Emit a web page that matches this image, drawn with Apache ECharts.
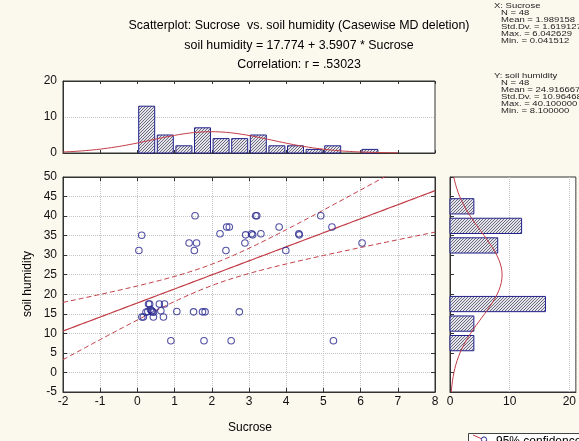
<!DOCTYPE html>
<html>
<head>
<meta charset="utf-8">
<script src="https://cdn.jsdelivr.net/npm/echarts@6/dist/echarts.min.js"></script>
<style>
  html, body { margin: 0; padding: 0; background: #fbf8ee; }
  #chart { width: 579px; height: 441px; }
</style>
</head>
<body>
<div id="chart"></div>
<script>
// Observations (Sucrose, soil humidity), one entry per case
const sucrose = [
  0.04, 0.115, 0.12, 0.16, 0.23, 0.30, 0.33, 0.38, 0.43, 0.43, 0.35, 0.40, 0.28,
  0.59, 0.73, 0.63, 0.70, 0.90,
  1.06, 1.39,
  1.55, 1.59, 1.53, 1.51, 1.75, 1.82, 1.79,
  2.22, 2.40, 2.47, 2.38,
  2.52, 2.74, 2.91, 2.89,
  3.18, 3.21, 3.07, 3.10, 3.32,
  3.81, 3.99,
  4.34, 4.35,
  4.93,
  5.23, 5.27,
  6.04
];
const soilHumidity = [
  31.2, 35.1, 14.2, 14.2, 15.4, 17.5, 17.5, 15.8, 15.4, 14.2, 16.1, 15.6, 15.6,
  17.5, 17.5, 15.8, 14.2, 8.1,
  15.6, 33.1,
  40.1, 33.1, 31.2, 15.5, 15.5, 15.5, 8.1,
  35.5, 37.2, 37.2, 31.2,
  8.1, 15.5, 35.2, 33.1,
  40.1, 40.1, 35.5, 35.2, 35.5,
  37.2, 31.2,
  35.5, 35.2,
  40.1,
  37.2, 8.1,
  33.1
];

// Histogram of Sucrose (bin width 0.5)
const sucroseBinCenters = [0.25, 0.75, 1.25, 1.75, 2.25, 2.75, 3.25, 3.75, 4.25, 4.75, 5.25, 5.75, 6.25];
const sucroseBinCounts  = [13, 5, 2, 7, 4, 4, 5, 2, 2, 1, 2, 0, 1];
const sucroseBinWidth = 0.5;

// Histogram of soil humidity (bin width 5)
const humidityBinCenters = [7.5, 12.5, 17.5, 22.5, 27.5, 32.5, 37.5, 42.5];
const humidityBinCounts  = [4, 4, 16, 0, 0, 8, 12, 4];
const humidityBinWidth = 5;

// Summary statistics printed on the chart
const nCases = 48;
const xMean = 1.989158, xSd = 1.619127;
const yMean = 24.916667, ySd = 10.96468;
const intercept = 17.774, slope = 3.5907, corrR = 0.53023;
const tCrit = 2.0129; // t(0.975, n-2 = 46)

const xStatsLines = ['N = 48', 'Mean = 1.989158', 'Std.Dv. = 1.619127', 'Max. = 6.042629', 'Min. = 0.041512'];
const yStatsLines = ['N = 48', 'Mean = 24.916667', 'Std.Dv. = 10.96468', 'Max. = 40.100000', 'Min. = 8.100000'];

// Axis ranges
const xRange = [-2, 8];
const yRange = [-5, 50];
const countRange = [0, 20];

const RED = '#c23d47';
const BLUE = '#25258f';
const GRID_LINE = { show: true, lineStyle: { type: 'dotted', color: '#c4c4c4', width: 1 } };
const FONT = 'Liberation Sans, Arial, sans-serif';

// Diagonal hatch used to fill histogram bars
function makeHatch() {
  const c = document.createElement('canvas');
  c.width = 3; c.height = 3;
  const g = c.getContext('2d');
  g.fillStyle = '#e4e4ea';
  g.fillRect(0, 0, 3, 3);
  g.strokeStyle = '#5c5c74';
  g.lineWidth = 0.9;
  g.beginPath();
  g.moveTo(-1, 4); g.lineTo(4, -1);
  g.stroke();
  return c;
}
const hatch = { image: makeHatch(), repeat: 'repeat' };

// Fitted line and its 95% confidence band
const resSe = ySd * Math.sqrt((1 - corrR * corrR) * (nCases - 1) / (nCases - 2));
const sxx = (nCases - 1) * xSd * xSd;
const fitLine = [], bandUpper = [], bandLower = [];
for (let i = 0; i <= 100; i++) {
  const x = xRange[0] + i * (xRange[1] - xRange[0]) / 100;
  const yh = intercept + slope * x;
  const half = tCrit * resSe * Math.sqrt(1 / nCases + (x - xMean) * (x - xMean) / sxx);
  fitLine.push([x, yh]);
  bandUpper.push([x, yh + half]);
  bandLower.push([x, yh - half]);
}

// Normal curves scaled to histogram counts
function normalPdf(v, m, s) {
  return Math.exp(-0.5 * ((v - m) / s) ** 2) / (s * Math.sqrt(2 * Math.PI));
}
const sucroseCurve = [];
for (let i = 0; i <= 90; i++) {
  const x = -2 + i * 0.1;
  sucroseCurve.push([x, nCases * sucroseBinWidth * normalPdf(x, xMean, xSd)]);
}
const humidityCurve = [];
for (let i = 0; i <= 110; i++) {
  const y = yRange[0] + i * 0.5;
  humidityCurve.push([nCases * humidityBinWidth * normalPdf(y, yMean, ySd), y]);
}

function barRect(api, x0, y0, x1, y1) {
  const p0 = api.coord([x0, y0]);
  const p1 = api.coord([x1, y1]);
  return {
    type: 'rect',
    shape: {
      x: Math.min(p0[0], p1[0]), y: Math.min(p0[1], p1[1]),
      width: Math.abs(p1[0] - p0[0]), height: Math.abs(p1[1] - p0[1])
    },
    style: { fill: hatch, stroke: '#22228c', lineWidth: 1 }
  };
}

// Compact, wide lettering for the summary boxes (y = top of first line)
const STATS_LINE = 7;
function statsText(x, y, text) {
  return { type: 'text', x: x, y: y, scaleX: 1.32, scaleY: 1, silent: true,
    style: { text: text, font: '7.2px ' + FONT, fill: '#222', lineHeight: STATS_LINE, textVerticalAlign: 'top' } };
}

const labelStyle = { color: '#111', fontSize: 12, fontFamily: FONT };
function tickInside(len) { return { show: true, inside: true, length: len || 4, lineStyle: { color: '#333' } }; }
const axisLineDark = { show: true, onZero: false, lineStyle: { color: '#333', width: 1 } };

const chart = echarts.init(document.getElementById('chart'), null, { renderer: 'canvas' });

const option = {
  backgroundColor: '#fbf8ee',
  animation: false,
  grid: [
    { left: 63, top: 177, width: 372, height: 215, show: true, backgroundColor: '#ffffff', borderColor: '#333', borderWidth: 1 },
    { left: 63, top: 81, width: 372, height: 72, show: true, backgroundColor: '#ffffff', borderColor: '#333', borderWidth: 1 },
    { left: 450, top: 177, width: 131, height: 215, show: true, backgroundColor: '#ffffff', borderColor: '#333', borderWidth: 1 }
  ],
  xAxis: [
    { gridIndex: 0, type: 'value', min: xRange[0], max: xRange[1], interval: 1, position: 'bottom',
      axisLine: axisLineDark, axisTick: tickInside(4), splitLine: GRID_LINE,
      axisLabel: Object.assign({ margin: 4 }, labelStyle) },
    { gridIndex: 0, type: 'value', min: xRange[0], max: xRange[1], interval: 1, position: 'top',
      axisLine: axisLineDark, axisTick: tickInside(4), splitLine: { show: false }, axisLabel: { show: false } },
    { gridIndex: 1, type: 'value', min: xRange[0], max: xRange[1], interval: 1, position: 'bottom',
      axisLine: axisLineDark, axisTick: tickInside(3), splitLine: { show: false }, axisLabel: { show: false } },
    { gridIndex: 1, type: 'value', min: xRange[0], max: xRange[1], interval: 1, position: 'top',
      axisLine: axisLineDark, axisTick: tickInside(3), splitLine: { show: false }, axisLabel: { show: false } },
    { gridIndex: 2, type: 'value', min: countRange[0], max: 21.1, interval: 10, position: 'bottom',
      axisLine: axisLineDark, axisTick: { show: false }, splitLine: GRID_LINE,
      axisLabel: Object.assign({ margin: 4, showMaxLabel: false }, labelStyle) }
  ],
  yAxis: [
    { gridIndex: 0, type: 'value', min: yRange[0], max: yRange[1], interval: 5, position: 'left',
      axisLine: axisLineDark, axisTick: tickInside(4), splitLine: GRID_LINE,
      axisLabel: Object.assign({ margin: 6 }, labelStyle) },
    { gridIndex: 0, type: 'value', min: yRange[0], max: yRange[1], interval: 5, position: 'right',
      axisLine: axisLineDark, axisTick: tickInside(4), splitLine: { show: false }, axisLabel: { show: false } },
    { gridIndex: 1, type: 'value', min: countRange[0], max: countRange[1], interval: 10, position: 'left',
      axisLine: axisLineDark, axisTick: { show: false }, splitLine: GRID_LINE,
      axisLabel: Object.assign({ margin: 6 }, labelStyle) },
    { gridIndex: 2, type: 'value', min: yRange[0], max: yRange[1], interval: 5, position: 'left',
      axisLine: axisLineDark, axisTick: tickInside(4), splitLine: { show: false }, axisLabel: { show: false } }
  ],
  series: [
    // Scatter of the cases
    { type: 'scatter', xAxisIndex: 0, yAxisIndex: 0, z: 5,
      data: sucrose.map((x, i) => [x, soilHumidity[i]]),
      symbol: 'circle', symbolSize: 6.5,
      itemStyle: { color: 'rgba(255,255,255,0)', borderColor: BLUE, borderWidth: 1.1 } },
    // Regression line and 95% confidence band
    { type: 'line', xAxisIndex: 0, yAxisIndex: 0, data: fitLine, showSymbol: false, symbol: 'none',
      lineStyle: { color: RED, width: 1.2 }, z: 4 },
    { type: 'line', xAxisIndex: 0, yAxisIndex: 0, data: bandUpper, showSymbol: false, symbol: 'none',
      lineStyle: { color: RED, width: 1, type: [5, 3] }, z: 4 },
    { type: 'line', xAxisIndex: 0, yAxisIndex: 0, data: bandLower, showSymbol: false, symbol: 'none',
      lineStyle: { color: RED, width: 1, type: [5, 3] }, z: 4 },
    // Sucrose histogram
    { type: 'custom', xAxisIndex: 2, yAxisIndex: 2, z: 3,
      data: sucroseBinCenters.map((c, i) => [c, sucroseBinCounts[i]]),
      renderItem: function (params, api) {
        const c = api.value(0), n = api.value(1);
        if (!n) return null;
        const hw = sucroseBinWidth * 0.43;
        return barRect(api, c - hw, n, c + hw, 0);
      } },
    { type: 'line', xAxisIndex: 2, yAxisIndex: 2, data: sucroseCurve, showSymbol: false, symbol: 'none',
      lineStyle: { color: RED, width: 1 }, z: 4 },
    // Soil humidity histogram (horizontal)
    { type: 'custom', xAxisIndex: 4, yAxisIndex: 3, z: 3,
      data: humidityBinCenters.map((c, i) => [humidityBinCounts[i], c]),
      renderItem: function (params, api) {
        const n = api.value(0), c = api.value(1);
        if (!n) return null;
        const hh = humidityBinWidth * 0.39;
        return barRect(api, 0, c + hh, n, c - hh);
      } },
    { type: 'line', xAxisIndex: 4, yAxisIndex: 3, data: humidityCurve, showSymbol: false, symbol: 'none',
      lineStyle: { color: RED, width: 1 }, z: 4 }
  ],
  graphic: [
    { type: 'text', x: 299, y: 26, silent: true,
      style: { text: 'Scatterplot: Sucrose  vs. soil humidity (Casewise MD deletion)', font: '12.4px ' + FONT,
        fill: '#000', textAlign: 'center', textVerticalAlign: 'middle' } },
    { type: 'text', x: 299, y: 46, silent: true,
      style: { text: 'soil humidity = 17.774 + 3.5907 * Sucrose', font: '12.4px ' + FONT,
        fill: '#000', textAlign: 'center', textVerticalAlign: 'middle' } },
    { type: 'text', x: 299, y: 65, silent: true,
      style: { text: 'Correlation: r = .53023', font: '12.4px ' + FONT,
        fill: '#000', textAlign: 'center', textVerticalAlign: 'middle' } },
    // Summary boxes
    statsText(494, 2.5, 'X: Sucrose'),
    statsText(501, 2.5 + STATS_LINE, xStatsLines.join('\n')),
    statsText(494, 72.5, 'Y: soil humidity'),
    statsText(501, 72.5 + STATS_LINE, yStatsLines.join('\n')),
    // Axis titles
    { type: 'text', x: 250, y: 428, silent: true,
      style: { text: 'Sucrose', font: '12px ' + FONT, fill: '#000', textAlign: 'center', textVerticalAlign: 'middle' } },
    { type: 'text', x: 28, y: 284, rotation: Math.PI / 2, silent: true,
      style: { text: 'soil humidity', font: '12px ' + FONT, fill: '#000', textAlign: 'center', textVerticalAlign: 'middle' } },
    // Legend box
    { type: 'rect', shape: { x: 468.5, y: 433.5, width: 130, height: 16 }, silent: true,
      style: { fill: '#ffffff', stroke: '#444', lineWidth: 1 } },
    { type: 'line', shape: { x1: 473, y1: 435, x2: 489, y2: 442 }, silent: true,
      style: { stroke: RED, lineWidth: 1 } },
    { type: 'circle', shape: { cx: 484, cy: 439.5, r: 2.6 }, silent: true,
      style: { fill: '#ffffff', stroke: BLUE, lineWidth: 1 } },
    { type: 'text', x: 496, y: 441.5, silent: true,
      style: { text: '95% confidence', font: '12px ' + FONT, fill: '#000', textVerticalAlign: 'middle' } }
  ]
};

chart.setOption(option);
</script>
</body>
</html>
